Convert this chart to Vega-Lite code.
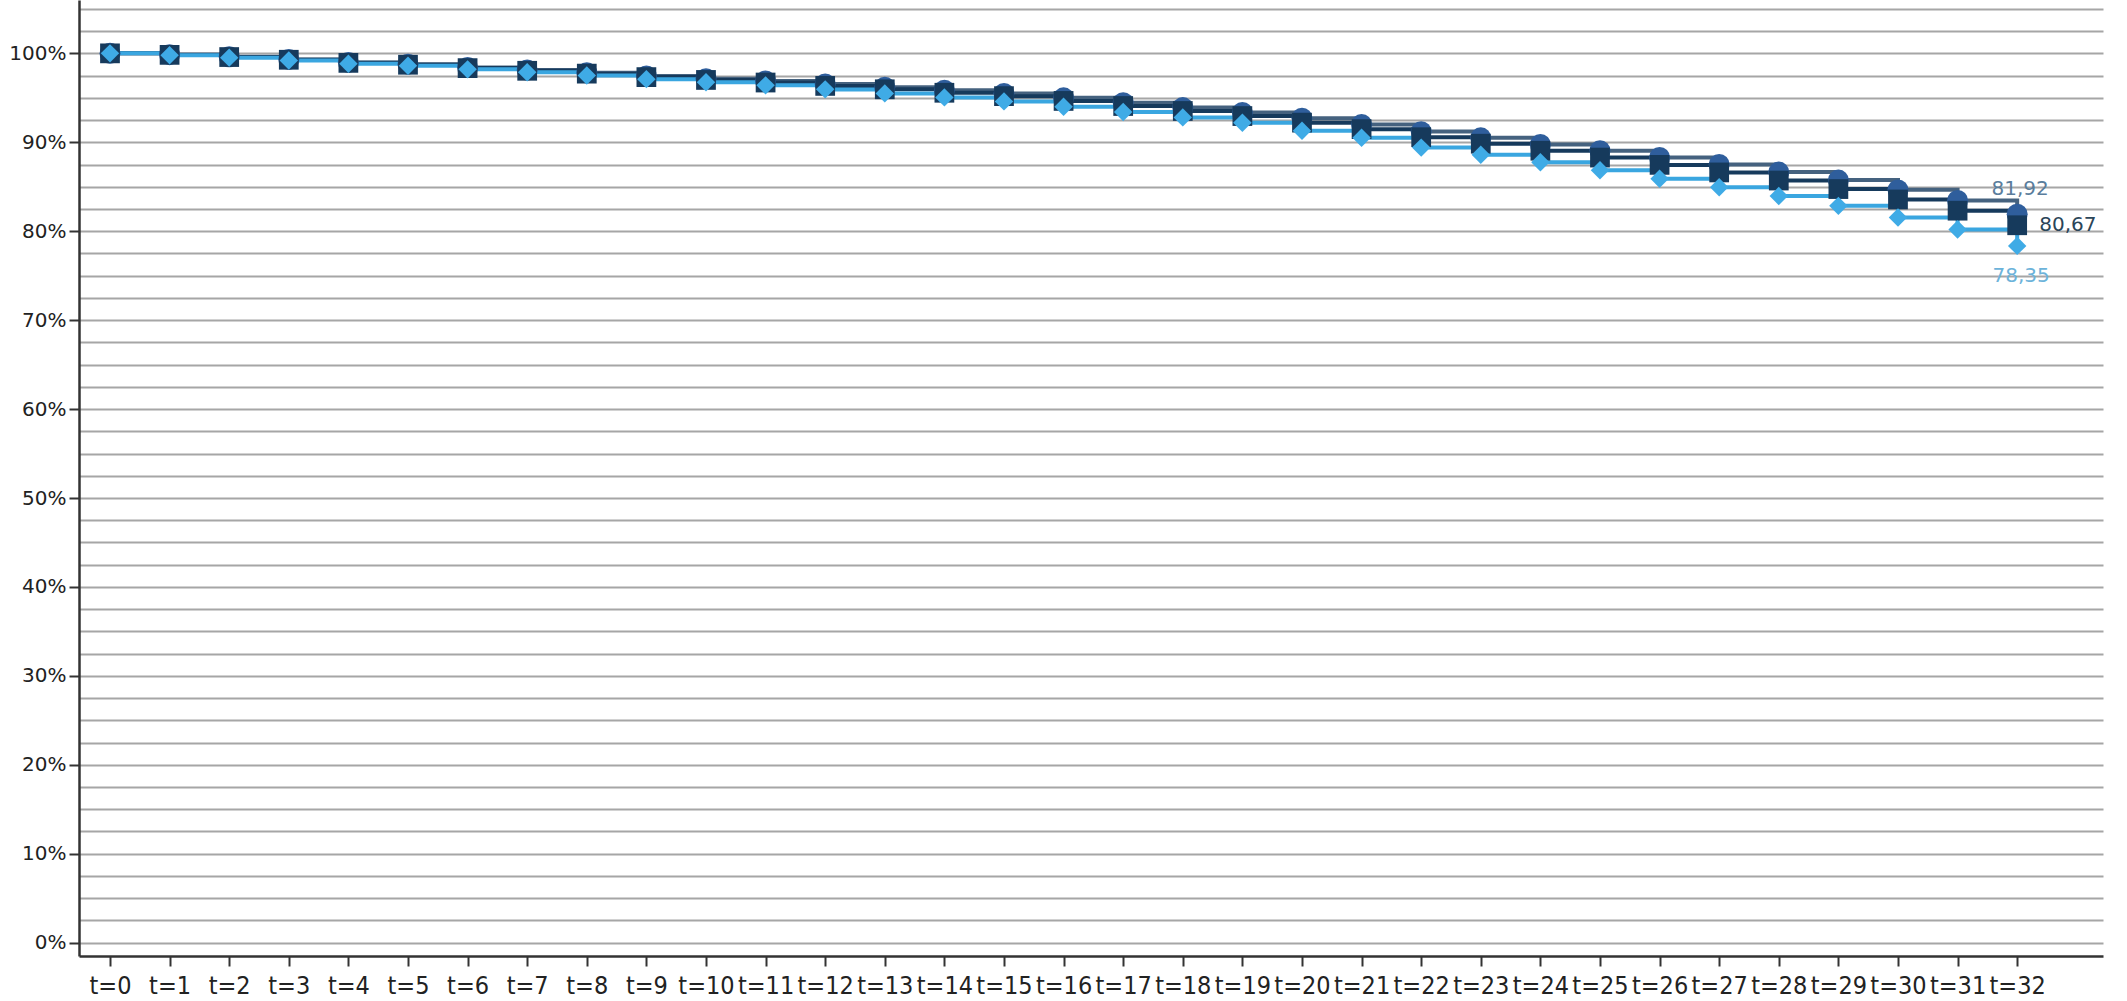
{
  "$schema": "https://vega.github.io/schema/vega-lite/v6.json",
  "autosize": {"type": "none"},
  "width": 2024,
  "height": 956,
  "padding": {"left": 79, "top": 0, "right": 24, "bottom": 45},
  "background": "#ffffff",
  "config": {"view": {"stroke": null}},
  "data": {"values": [
    {"t":0,"s":"A","v":100},{"t":1,"s":"A","v":99.85},{"t":2,"s":"A","v":99.62},{"t":3,"s":"A","v":99.32},{"t":4,"s":"A","v":98.98},{"t":5,"s":"A","v":98.78},{"t":6,"s":"A","v":98.42},{"t":7,"s":"A","v":98.12},{"t":8,"s":"A","v":97.82},{"t":9,"s":"A","v":97.45},{"t":10,"s":"A","v":97.15},{"t":11,"s":"A","v":96.9},{"t":12,"s":"A","v":96.55},{"t":13,"s":"A","v":96.2},{"t":14,"s":"A","v":95.85},{"t":15,"s":"A","v":95.5},{"t":16,"s":"A","v":95.0},{"t":17,"s":"A","v":94.45},{"t":18,"s":"A","v":93.9},{"t":19,"s":"A","v":93.35},{"t":20,"s":"A","v":92.7},{"t":21,"s":"A","v":92.0},{"t":22,"s":"A","v":91.2},{"t":23,"s":"A","v":90.5},{"t":24,"s":"A","v":89.75},{"t":25,"s":"A","v":89.05},{"t":26,"s":"A","v":88.3},{"t":27,"s":"A","v":87.5},{"t":28,"s":"A","v":86.65},{"t":29,"s":"A","v":85.75},{"t":30,"s":"A","v":84.65},{"t":31,"s":"A","v":83.45},{"t":32,"s":"A","v":81.92},
    {"t":0,"s":"B","v":100},{"t":1,"s":"B","v":99.83},{"t":2,"s":"B","v":99.585},{"t":3,"s":"B","v":99.28},{"t":4,"s":"B","v":98.93},{"t":5,"s":"B","v":98.72},{"t":6,"s":"B","v":98.34},{"t":7,"s":"B","v":98.04},{"t":8,"s":"B","v":97.72},{"t":9,"s":"B","v":97.33},{"t":10,"s":"B","v":97.01},{"t":11,"s":"B","v":96.72},{"t":12,"s":"B","v":96.34},{"t":13,"s":"B","v":95.96},{"t":14,"s":"B","v":95.57},{"t":15,"s":"B","v":95.19},{"t":16,"s":"B","v":94.65},{"t":17,"s":"B","v":94.08},{"t":18,"s":"B","v":93.52},{"t":19,"s":"B","v":92.95},{"t":20,"s":"B","v":92.21},{"t":21,"s":"B","v":91.48},{"t":22,"s":"B","v":90.57},{"t":23,"s":"B","v":89.84},{"t":24,"s":"B","v":89.05},{"t":25,"s":"B","v":88.28},{"t":26,"s":"B","v":87.46},{"t":27,"s":"B","v":86.61},{"t":28,"s":"B","v":85.7},{"t":29,"s":"B","v":84.74},{"t":30,"s":"B","v":83.57},{"t":31,"s":"B","v":82.31},{"t":32,"s":"B","v":80.67},
    {"t":0,"s":"C","v":100},{"t":1,"s":"C","v":99.78},{"t":2,"s":"C","v":99.52},{"t":3,"s":"C","v":99.2},{"t":4,"s":"C","v":98.83},{"t":5,"s":"C","v":98.6},{"t":6,"s":"C","v":98.2},{"t":7,"s":"C","v":97.88},{"t":8,"s":"C","v":97.52},{"t":9,"s":"C","v":97.1},{"t":10,"s":"C","v":96.75},{"t":11,"s":"C","v":96.4},{"t":12,"s":"C","v":95.95},{"t":13,"s":"C","v":95.5},{"t":14,"s":"C","v":95.05},{"t":15,"s":"C","v":94.6},{"t":16,"s":"C","v":94.0},{"t":17,"s":"C","v":93.4},{"t":18,"s":"C","v":92.8},{"t":19,"s":"C","v":92.2},{"t":20,"s":"C","v":91.3},{"t":21,"s":"C","v":90.5},{"t":22,"s":"C","v":89.4},{"t":23,"s":"C","v":88.6},{"t":24,"s":"C","v":87.75},{"t":25,"s":"C","v":86.85},{"t":26,"s":"C","v":85.9},{"t":27,"s":"C","v":84.95},{"t":28,"s":"C","v":83.95},{"t":29,"s":"C","v":82.85},{"t":30,"s":"C","v":81.55},{"t":31,"s":"C","v":80.2},{"t":32,"s":"C","v":78.35}
  ]},
  "encoding": {
    "x": {
      "field": "t", "type": "quantitative",
      "scale": {"domain": [-0.52, 33.44], "nice": false, "zero": false},
      "axis": {
        "title": null,
        "values": [0,1,2,3,4,5,6,7,8,9,10,11,12,13,14,15,16,17,18,19,20,21,22,23,24,25,26,27,28,29,30,31,32],
        "labelExpr": "'t=' + datum.value",
        "grid": false,
        "labelOverlap": false,
        "labelFlush": false,
        "labelBound": false,
        "tickSize": 10,
        "tickWidth": 2,
        "tickColor": "#333333",
        "domainColor": "#333333",
        "domainWidth": 2.5,
        "labelFont": "DejaVu Sans Condensed, Liberation Sans Narrow, DejaVu Sans, sans-serif",
        "labelFontSize": 25,
        "labelColor": "#222222",
        "labelPadding": 7
      }
    },
    "y": {
      "field": "v", "type": "quantitative",
      "scale": {"domain": [-1.5, 106], "nice": false, "zero": false},
      "axis": {
        "title": null,
        "values": [0,2.5,5,7.5,10,12.5,15,17.5,20,22.5,25,27.5,30,32.5,35,37.5,40,42.5,45,47.5,50,52.5,55,57.5,60,62.5,65,67.5,70,72.5,75,77.5,80,82.5,85,87.5,90,92.5,95,97.5,100,102.5,105],
        "labelExpr": "datum.value % 10 === 0 ? datum.value + '%' : ''",
        "grid": true,
        "gridColor": "#a6a6a6",
        "gridWidth": 2,
        "tickSize": 10,
        "tickWidth": 2,
        "tickColor": "#333333",
        "tickOpacity": {"condition": {"test": "datum.value % 10 === 0", "value": 1}, "value": 0},
        "domainColor": "#333333",
        "domainWidth": 2.5,
        "labelFont": "DejaVu Sans, sans-serif",
        "labelFontSize": 20,
        "labelColor": "#222222",
        "labelPadding": 3,
        "labelOverlap": false,
        "labelBound": false
      }
    }
  },
  "layer": [
    {
      "mark": {"type": "line", "interpolate": "step-after", "strokeWidth": 4},
      "encoding": {
        "color": {"field": "s", "type": "nominal", "legend": null,
          "scale": {"domain": ["A","B","C"], "range": ["#45627f", "#163a5c", "#3aa6e0"]}}
      }
    },
    {
      "mark": {"type": "point", "filled": true, "opacity": 1},
      "encoding": {
        "fill": {"field": "s", "type": "nominal", "legend": null,
          "scale": {"domain": ["A","B","C"], "range": ["#2f5e9c", "#163a5c", "#3fabe6"]}},
        "shape": {"field": "s", "type": "nominal", "legend": null,
          "scale": {"domain": ["A","B","C"], "range": ["circle", "square", "diamond"]}},
        "size": {"field": "s", "type": "nominal", "legend": null,
          "scale": {"domain": ["A","B","C"], "range": [440, 340, 520]}}
      }
    },
    {
      "transform": [{"filter": "datum.t === 32 && datum.s === 'A'"}, {"calculate": "replace(format(datum.v, '.2f'), '.', ',')", "as": "lbl"}],
      "mark": {"type": "text", "dy": -25, "dx": 3, "fontSize": 20, "font": "DejaVu Sans, sans-serif", "color": "#5a7d9c"},
      "encoding": {"text": {"field": "lbl"}}
    },
    {
      "transform": [{"filter": "datum.t === 32 && datum.s === 'B'"}, {"calculate": "replace(format(datum.v, '.2f'), '.', ',')", "as": "lbl"}],
      "mark": {"type": "text", "dx": 22, "dy": 0, "align": "left", "fontSize": 20, "font": "DejaVu Sans, sans-serif", "color": "#2b4558"},
      "encoding": {"text": {"field": "lbl"}}
    },
    {
      "transform": [{"filter": "datum.t === 32 && datum.s === 'C'"}, {"calculate": "replace(format(datum.v, '.2f'), '.', ',')", "as": "lbl"}],
      "mark": {"type": "text", "dy": 30, "dx": 4, "fontSize": 20, "font": "DejaVu Sans, sans-serif", "color": "#6cb3da"},
      "encoding": {"text": {"field": "lbl"}}
    }
  ]
}
